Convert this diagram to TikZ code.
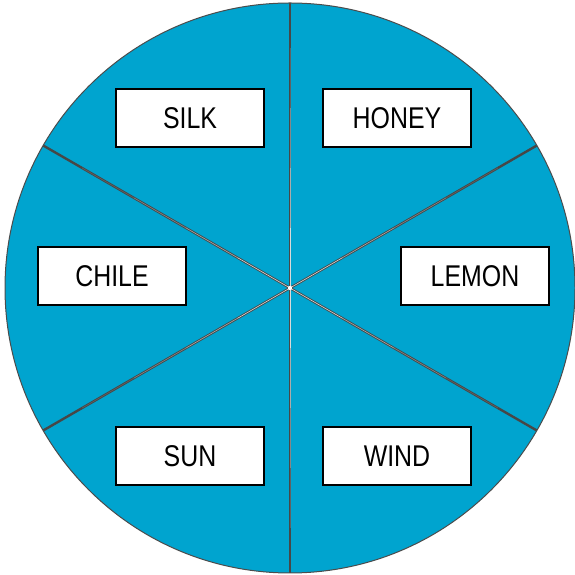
\documentclass[tikz,border=0pt]{standalone}
\usepackage{fontspec}
\setmainfont{Liberation Sans}
\usetikzlibrary{calc}
\definecolor{wheel}{RGB}{0,164,207}
\tikzset{
  label box/.style={draw=black, line width=1.8pt, fill=white, minimum width=148pt, minimum height=58pt, inner sep=0pt,
    font=\fontsize{30}{31}\selectfont},
  ray/.style={draw=black!72, line width=2.4pt},
  glint/.style={draw=white, line width=0.6pt}
}
\newcommand{\lbltext}[1]{\scalebox{0.83}[1]{#1}}
\begin{document}
\begin{tikzpicture}[x=1pt,y=1pt]
\useasboundingbox (0,0) rectangle (574,575);
\coordinate (c) at (290,287);
\fill[wheel] (c) circle (285);
\foreach \a in {30,90,150,210,270,330}{
  \draw[ray] (c) -- ($(c)+(\a:285)$);
  \draw[glint, opacity=0.8] (c) -- ($(c)+(\a:60)$);
  \draw[glint, opacity=0.55] ($(c)+(\a:60)$) -- ($(c)+(\a:120)$);
  \draw[glint, opacity=0.35] ($(c)+(\a:120)$) -- ($(c)+(\a:180)$);
  \draw[glint, opacity=0.15] ($(c)+(\a:180)$) -- ($(c)+(\a:240)$);
}
\fill[white] (c) circle (2.2);
\draw[black!70, line width=1pt] (c) circle (285);
\node[label box] (silk)  at (190,457) {\lbltext{SILK}};
\node[label box] (honey) at (397,457) {\lbltext{HONEY}};
\node[label box] (chile) at (112,299) {\lbltext{CHILE}};
\node[label box] (lemon) at (475,299) {\lbltext{LEMON}};
\node[label box] (sun)   at (190,119) {\lbltext{SUN}};
\node[label box] (wind)  at (397,119) {\lbltext{WIND}};
\end{tikzpicture}
\end{document}
